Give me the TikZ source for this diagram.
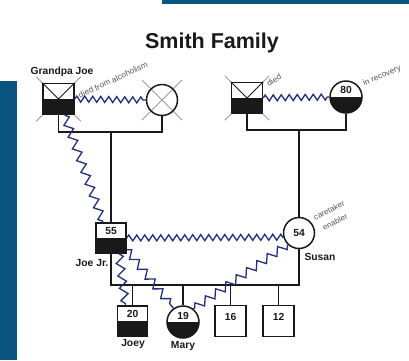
\documentclass[tikz,border=0pt]{standalone}
\usepackage{fontspec}
\setmainfont{Liberation Sans}
\usetikzlibrary{decorations.pathmorphing,backgrounds}
\definecolor{barblue}{RGB}{12,84,128}
\definecolor{zzc}{RGB}{35,45,130}
\definecolor{lc}{RGB}{25,25,25}
\definecolor{xg}{RGB}{155,155,155}
\definecolor{tg}{RGB}{85,85,85}
\begin{document}
\begin{tikzpicture}[x=1pt,y=-1pt,
  every node/.style={inner sep=0pt, font=\bfseries\fontsize{10.3}{12}\selectfont, text=lc},
  sq/.style={rectangle, draw=lc, line width=1.5pt, fill=white, minimum size=31pt},
  fem/.style={circle, draw=lc, line width=1.5pt, fill=white, minimum size=31pt},
  halfblack/.style={path picture={\fill[lc] (path picture bounding box.west) rectangle (path picture bounding box.south east);}},
  ln/.style={draw=lc, line width=1.5pt},
  xln/.style={draw=xg, line width=0.9pt},
  zig/.style={draw=zzc, line width=1.3pt, decorate, decoration={zigzag, segment length=8pt, amplitude=3pt}},
  zigb/.style={draw=zzc, line width=1.3pt, decorate, decoration={zigzag, segment length=12.5pt, amplitude=4pt}},
  note/.style={font=\fontsize{8.2}{9.5}\selectfont, text=tg}
]
\useasboundingbox (0,0) rectangle (409,360);
% bars
\fill[barblue] (162,0) rectangle (409,4);
\fill[barblue] (0,81) rectangle (17,360);
% title
\node (title) at (212,43) {\fontsize{21.5}{24}\selectfont Smith Family};
% generation 1
\node[sq, halfblack] (gj) at (58.5,99) {};
\node[fem, fill=none] (gm) at (162,100) {};
\node[sq, halfblack] (gf) at (247,98) {};
\node[fem, halfblack, minimum size=32pt] (g80) at (346,97) {};
\node at ([yshift=7pt]g80.center) {80};
% X marks
\begin{scope}[on background layer]
  \draw[xln] ([shift={(-6pt,6pt)}]gj.north west) -- ([shift={(6pt,-6pt)}]gj.south east);
  \draw[xln] ([shift={(6pt,6pt)}]gj.north east) -- ([shift={(-6pt,-6pt)}]gj.south west);
  \draw[xln] ([shift={(-6pt,6pt)}]gf.north west) -- ([shift={(6pt,-6pt)}]gf.south east);
  \draw[xln] ([shift={(6pt,6pt)}]gf.north east) -- ([shift={(-6pt,-6pt)}]gf.south west);
  \draw[xln] ([shift={(-20pt,20pt)}]gm.center) -- ([shift={(20pt,-20pt)}]gm.center);
  \draw[xln] ([shift={(20pt,20pt)}]gm.center) -- ([shift={(-20pt,-20pt)}]gm.center);
\end{scope}
\draw[lc, line width=1pt] (gj.north west) -- (gj.center) -- (gj.north east);
\draw[lc, line width=1pt] (gf.north west) -- (gf.center) -- (gf.north east);
% labels gen 1
\node (lgj) at (62,72) {Grandpa Joe};
\node[note, rotate=25] (ldied1) at (113,80) {died from alcoholism};
\node[note, rotate=30] (ldied2) at (274,80) {died};
\node[note, rotate=23] (lrec) at (382,76) {in recovery};
% generation 2
\node[sq, halfblack, minimum size=30pt] (jj) at (111,238) {};
\node at ([yshift=7.5pt]jj.center) {55};
\node[fem] (susan) at (299,233) {54};
\node (ljj) at (92,263) {Joe Jr.};
\node (lsusan) at (320,257) {Susan};
\node[note, rotate=27, font=\fontsize{8}{9}\selectfont] (lcare) at (329,210) {caretaker};
\node[note, rotate=27, font=\fontsize{8}{9}\selectfont] (lenab) at (335,222) {enabler};
% generation 3
\node[sq, halfblack, minimum size=30pt] (joey) at (132.5,321) {};
\node at ([yshift=7pt]joey.center) {20};
\node[fem, halfblack, minimum size=32pt] (mary) at (183,322) {};
\node at ([yshift=6pt]mary.center) {19};
\node[sq] (c16) at (230.5,321) {};
\node at ([yshift=4pt]c16.center) {16};
\node[sq] (c12) at (278.5,321) {};
\node at ([yshift=4pt]c12.center) {12};
\node (ljoey) at (133,344) {Joey};
\node (lmary) at (183,346) {Mary};
% family lines
\coordinate (m1) at (111,132);
\coordinate (m2) at (299,130);
\coordinate (kl) at (111,285);
\coordinate (kr) at (299,285);
\draw[ln] (gj.south) |- (m1) -| (gm.south);
\draw[ln] (m1) -- (jj.north);
\draw[ln] (gf.south) |- (m2) -| (g80.south);
\draw[ln] (m2) -- (susan.north);
\draw[ln] (jj.south) -- (kl) -- (kr) -- (susan.south);
\draw[ln] (joey.north) -- (joey.north |- kl);
\draw[ln] (mary.north) -- (mary.north |- kl);
\draw[ln] (c16.north) -- (c16.north |- kl);
\draw[ln] (c12.north) -- (c12.north |- kl);
% conflict zigzags
\draw[zig] (gj.east) -- (gm.west);
\draw[zig] (gf.east) -- (g80.west);
\draw[zigb] ([xshift=6pt]gj.south) -- ([xshift=-8pt]jj.north);
\draw[zig] (jj.east) -- (susan.195);
\draw[zigb] ([xshift=8pt]jj.south) -- ([xshift=-7pt]joey.north);
\draw[zigb] ([yshift=4pt]jj.south east) -- (mary.125);
\draw[zigb] (susan.225) -- (mary.52);
\end{tikzpicture}
\end{document}
